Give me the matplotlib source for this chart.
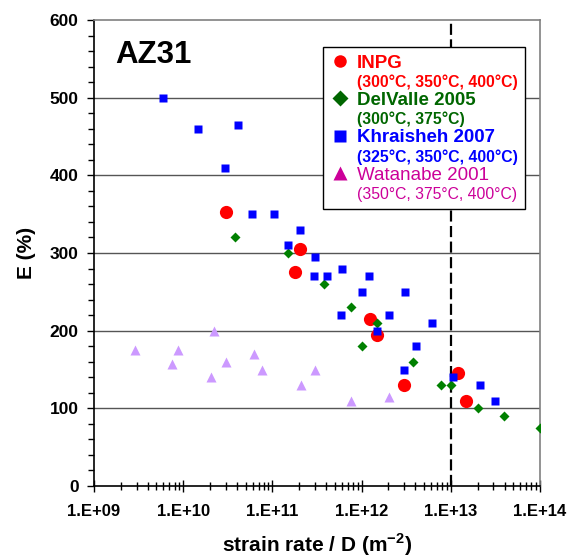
import numpy as np
import matplotlib
matplotlib.use('Agg')
from matplotlib import pyplot as plt
from matplotlib.lines import Line2D
from matplotlib.ticker import FixedLocator, FuncFormatter

plt.rcParams['font.family'] = ['Liberation Sans', 'DejaVu Sans']

#%% data (x = strain rate / D, y = E %)
inpg_x = [3.0e10, 2.05e11, 1.78e11, 1.24e12, 1.49e12, 3.0e12, 1.2e13, 1.48e13]
inpg_y = [353, 305, 276, 215, 195, 130, 146, 110]

delvalle_x = [3.8e10, 1.5e11, 3.8e11, 7.6e11, 1.5e12, 1.0e12, 3.8e12, 7.8e12, 1.0e13, 2.0e13, 3.9e13, 1.0e14]
delvalle_y = [320, 300, 260, 230, 210, 180, 160, 130, 130, 100, 90, 75]

khraisheh_x = [5.9e9, 1.48e10, 4.1e10, 2.95e10, 5.95e10, 1.03e11, 2.05e11, 1.48e11, 3.0e11, 2.95e11,
               4.1e11, 6.0e11, 1.2e12, 1.0e12, 3.1e12, 5.9e11, 2.04e12, 1.49e12, 6.1e12, 4.1e12,
               3.0e12, 1.05e13, 2.1e13, 3.1e13]
khraisheh_y = [500, 460, 465, 410, 350, 350, 330, 310, 295, 270,
               270, 280, 270, 250, 250, 220, 220, 200, 210, 180,
               150, 140, 130, 110]

watanabe_x = [2.9e9, 7.5e9, 8.8e9, 2.2e10, 2.05e10, 3.0e10, 6.2e10, 7.6e10, 2.1e11, 3.0e11, 7.6e11, 2.05e12]
watanabe_y = [175, 157, 175, 200, 140, 160, 170, 150, 130, 150, 110, 115]

x_limit = 1e13  # dashed line

legend_names = ['INPG', 'DelValle 2005', 'Khraisheh 2007', 'Watanabe 2001']
legend_temps = ['(300°C, 350°C, 400°C)', '(300°C, 375°C)', '(325°C, 350°C, 400°C)', '(350°C, 375°C, 400°C)']

#%% plot
fig = plt.figure(figsize=(5.75, 5.57), dpi=100)
ax = fig.add_axes([94/575, 1-486/557, 446/575, 466/557])

for yv in [100, 200, 300, 400, 500]:
    ax.axhline(yv, color='#555555', lw=1, zorder=1)

ax.plot(watanabe_x, watanabe_y, '^', color='#CC99FF', ms=7.5, mec='none', zorder=3)
ax.plot(inpg_x, inpg_y, 'o', color='#FF0000', ms=9.5, mec='none', zorder=4)
ax.plot(delvalle_x, delvalle_y, 'D', color='#008000', ms=5, mec='none', zorder=5)
ax.plot(khraisheh_x, khraisheh_y, 's', color='#0000FF', ms=6, mec='none', zorder=6)
ax.axvline(x_limit, color='black', lw=1.6, ls=(0, (5, 2)), zorder=2)

ax.set_xscale('log')
ax.set_xlim(1e9, 1e14)
ax.set_ylim(0, 600)

ax.xaxis.set_major_locator(FixedLocator([10.0**k for k in range(9, 15)]))
ax.xaxis.set_minor_locator(FixedLocator([m*10.0**k for k in range(9, 14) for m in range(2, 10)]))
ax.xaxis.set_major_formatter(FuncFormatter(lambda v, p: '1.E+%02d' % int(round(np.log10(v)))))
ax.set_yticks(np.arange(0, 601, 100))
ax.set_yticks(np.arange(0, 601, 20), minor=True)

ax.tick_params(axis='x', which='major', direction='inout', length=8, width=1, pad=9, labelsize=12)
ax.tick_params(axis='x', which='minor', direction='inout', length=6, width=1)
ax.tick_params(axis='y', which='major', direction='out', length=5, width=1, pad=6, labelsize=12.5)
ax.tick_params(axis='y', which='minor', direction='out', length=4, width=1)
for lab in ax.get_xticklabels() + ax.get_yticklabels():
    lab.set_fontweight('bold')

ax.spines['left'].set_color('black')
ax.spines['bottom'].set_color('black')
ax.spines['top'].set_color('#808080')
ax.spines['right'].set_color('#808080')
for s in ax.spines.values():
    s.set_linewidth(1.2)

ax.set_xlabel('strain rate / D (m$^{\\mathregular{-2}}$)', fontsize=15, fontweight='bold', labelpad=9)
ax.set_ylabel('E (%)', fontsize=15, fontweight='bold', labelpad=10)

ax.text(0.047, 0.925, 'AZ31', transform=ax.transAxes, fontsize=22.5, fontweight='bold', va='center', ha='left')

#%% legend
marker_style = [dict(marker='o', color='#FF0000', ms=9),
                dict(marker='D', color='#006600', ms=8),
                dict(marker='s', color='#0000FF', ms=8),
                dict(marker='^', color='#CC0099', ms=10)]
text_colors = ['#FF0000', '#006600', '#0000FF', '#CC0099']
handles, labels = [], []
for name, temp, st in zip(legend_names, legend_temps, marker_style):
    handles.append(Line2D([], [], ls='none', mec='none', **st))
    labels.append(name)
    handles.append(Line2D([], [], ls='none', marker=None))
    labels.append(temp)

leg = ax.legend(handles, labels, loc='upper left', bbox_to_anchor=(0.513, 0.942), frameon=True,
                fancybox=False, framealpha=1, edgecolor='black', borderpad=0.4, borderaxespad=0,
                labelspacing=0.11, handlelength=1.0, handletextpad=0.42, fontsize=13.5)
leg.get_frame().set_linewidth(1)
for i, t in enumerate(leg.get_texts()):
    t.set_color(text_colors[i // 2])
    if i % 2 == 0:
        t.set_fontsize(13.5)
        t.set_fontweight('normal' if i == 6 else 'bold')
    else:
        t.set_fontsize(11.3)
        t.set_fontweight('normal' if i == 7 else 'bold')

fig.savefig('out.png', dpi=100)
